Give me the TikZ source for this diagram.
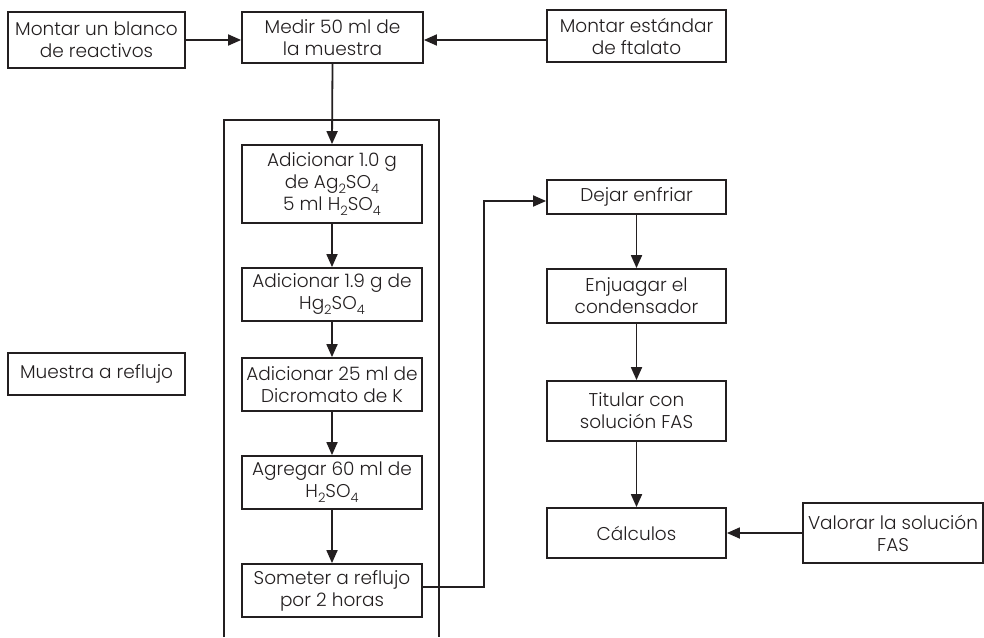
\documentclass[tikz,border=0pt]{standalone}
\usepackage{fontspec}
\setmainfont{Poppins}[UprightFont={* Light}]
\usetikzlibrary{arrows.meta}
\definecolor{ink}{HTML}{231F20}
\newcommand{\sbs}[1]{\raisebox{-0.5ex}{\fontsize{13}{13}\selectfont #1}}
\begin{document}
\begin{tikzpicture}[x=1pt,y=-1pt,
  every node/.style={font=\fontsize{18.5}{22}\selectfont, text=ink},
  stepbox/.style={draw=ink, line width=1.8pt, rectangle, inner sep=0pt, align=center},
  link/.style={draw=ink, line width=1.8pt},
  arr/.style={link, -{Triangle[length=13pt,width=11pt]}}]
\useasboundingbox (0,0) rectangle (984,637);
% left column
\node[stepbox, minimum width=177pt, minimum height=56pt] (blanco) at (96.5,40) {Montar un blanco\\de reactivos};
\node[stepbox, minimum width=177pt, minimum height=42pt] (reflujo) at (96.5,374) {Muestra a reflujo};
% top centre and right
\node[stepbox, minimum width=181pt, minimum height=51pt] (medir) at (332.5,37.5) {Medir 50 ml de\\la muestra};
\node[stepbox, minimum width=179pt, minimum height=52pt] (ftalato) at (636.5,36) {Montar estándar\\de ftalato};
% enclosing frame, open at the bottom
\draw[link] (224,637) -- (224,120) -- (439,120) -- (439,637);
% reflux sequence
\node[stepbox, minimum width=180pt, minimum height=78pt] (d1) at (332,184) {Adicionar 1.0 g\\de Ag\sbs{2}SO\sbs{4}\\5 ml H\sbs{2}SO\sbs{4}};
\node[stepbox, minimum width=180pt, minimum height=53pt] (d2) at (332,294.5) {Adicionar 1.9 g de\\Hg\sbs{2}SO\sbs{4}};
\node[stepbox, minimum width=180pt, minimum height=53pt] (d3) at (332,384.5) {Adicionar 25 ml de\\Dicromato de K};
\node[stepbox, minimum width=180pt, minimum height=53pt] (d4) at (332,482.5) {Agregar 60 ml de\\H\sbs{2}SO\sbs{4}};
\node[stepbox, minimum width=180pt, minimum height=53pt] (d5) at (332,590.5) {Someter a reflujo\\por 2 horas};
% right column
\node[stepbox, minimum width=179pt, minimum height=34pt] (e1) at (636.5,197) {Dejar enfriar};
\node[stepbox, minimum width=179pt, minimum height=54pt] (e2) at (636.5,296) {Enjuagar el\\condensador};
\node[stepbox, minimum width=179pt, minimum height=60pt] (e3) at (636.5,411) {Titular con\\solución FAS};
\node[stepbox, minimum width=179pt, minimum height=50pt] (e4) at (636.5,533) {Cálculos};
\node[stepbox, minimum width=180pt, minimum height=60pt] (fas) at (893,533) {Valorar la solución\\FAS};
% connectors
\draw[arr] (blanco.east |- 0,40) -- (medir.west |- 0,40);
\draw[arr] (ftalato.west |- 0,40) -- (medir.east |- 0,40);
\draw[arr] (medir.south) -- (d1.north);
\draw[arr] (d1) -- (d2);
\draw[arr] (d2) -- (d3);
\draw[arr] (d3) -- (d4);
\draw[arr] (d4) -- (d5);
\coordinate (k1) at (484,587);
\coordinate (k2) at (484,201);
\draw[arr] (d5.east |- k1) -- (k1) -- (k2) -- (e1.west |- k2);
\draw[arr] (e1) -- (e2);
\draw[arr] (e2) -- (e3);
\draw[arr] (e3) -- (e4);
\draw[arr] (fas) -- (e4);
\end{tikzpicture}
\end{document}
